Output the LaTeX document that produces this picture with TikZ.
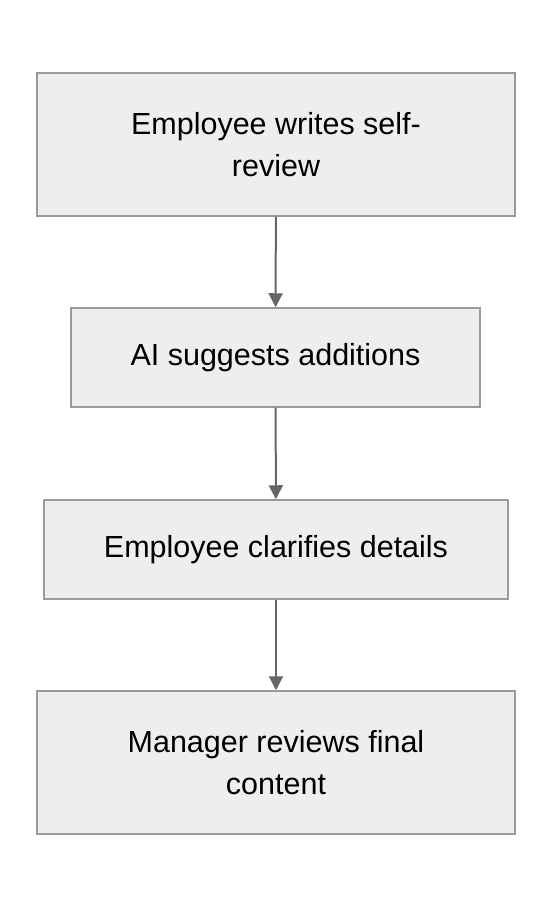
\documentclass[tikz,border=0pt]{standalone}
\usepackage{fontspec}
\setmainfont{Liberation Sans}
\usepackage{tikz}
\usetikzlibrary{positioning}
\usetikzlibrary{arrows.meta}
\definecolor{boxfill}{HTML}{EEEEEE}
\definecolor{boxline}{HTML}{9A9A9A}
\definecolor{arrowline}{HTML}{666666}

\begin{document}
\begin{tikzpicture}[x=1pt, y=-1pt]
		\tikzset{>={Triangle[length=14pt, width=14pt]}}
		\tikzset{stepbox/.style={rectangle, draw=boxline, line width=1.5pt, fill=boxfill, align=center, inner sep=0pt, font=\fontsize{30.5}{42}\selectfont}}
		\tikzset{flow/.style={->, draw=arrowline, line width=2pt, fill=arrowline}}
		
		\useasboundingbox (0,0) rectangle (552,908);
		
		\node[stepbox, minimum width=478pt, minimum height=143pt] (selfreview) at (276,144.5) {Employee writes self-\\review}; 
		\node[stepbox, minimum width=409pt, minimum height=99pt] (aisuggest) at (275.5,357.5) {AI suggests additions}; 
		\node[stepbox, minimum width=464pt, minimum height=99pt] (clarify) at (276,549.5) {Employee clarifies details}; 
		\node[stepbox, minimum width=478pt, minimum height=143pt] (managerrev) at (276,762.5) {Manager reviews final\\content}; 
		
		%pfeile
		\draw[flow] (selfreview) -- (aisuggest);
		\draw[flow] (aisuggest) -- (clarify);
		\draw[flow] (clarify) -- (managerrev);
		
	\end{tikzpicture}
\end{document}
